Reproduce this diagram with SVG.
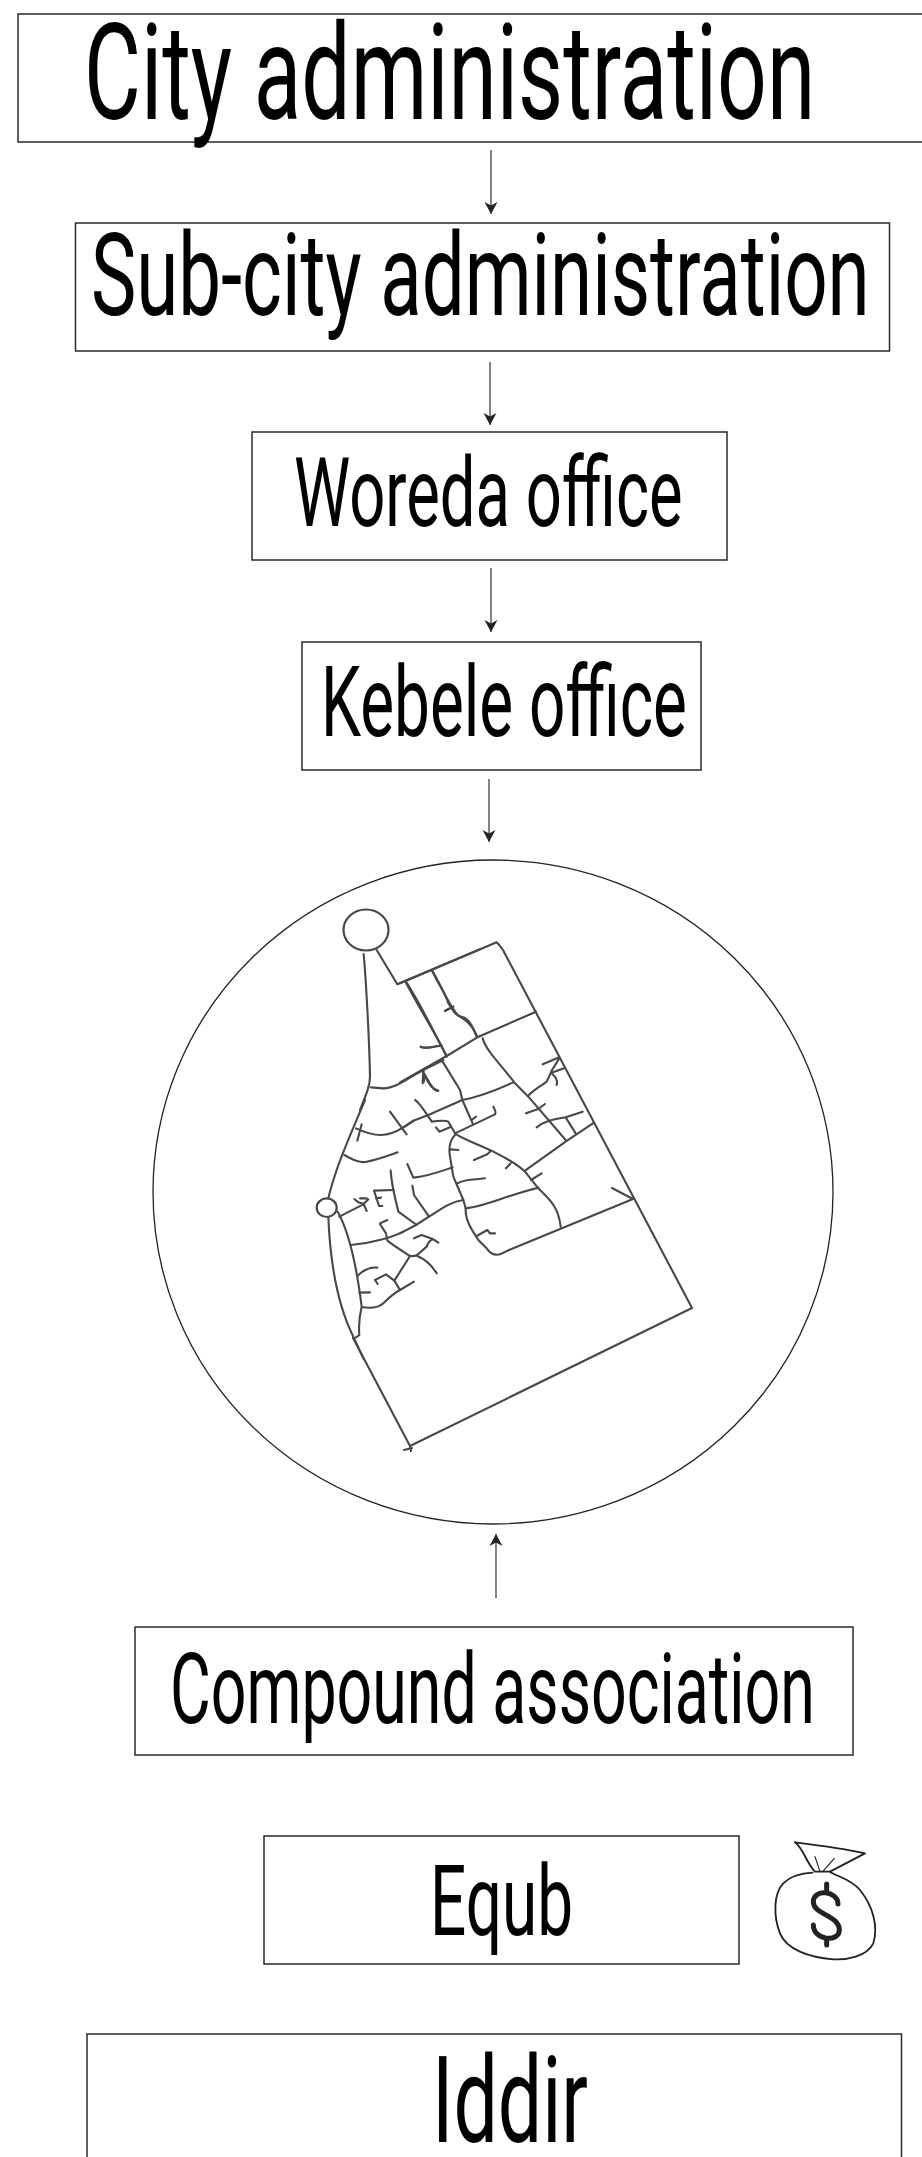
<svg xmlns="http://www.w3.org/2000/svg" width="922" height="2157" viewBox="0 0 922 2157">
<style>
.box{fill:#fff;stroke:#2a2a2a;stroke-width:1.5}
.lb{font-family:"Roboto","Liberation Sans",sans-serif;font-weight:400;fill:#000}
.arr{stroke:#333;stroke-width:1.2;fill:none;marker-end:url(#ah)}
.rd{fill:none;stroke:#484848;stroke-linecap:round;stroke-linejoin:round}
.z{stroke-width:6.300}
.bag{fill:none;stroke:#222;stroke-linejoin:round;stroke-linecap:round}
</style>
<defs>
<marker id="ah" markerUnits="userSpaceOnUse" markerWidth="14" markerHeight="14" refX="12" refY="7" orient="auto"><path d="M0,.5 L12,7 L0,13.500 L3.500,7z" fill="#222"/></marker>
</defs>
<rect width="922" height="2157" fill="#fff"/>
<g id="connectors">
<line class="arr" x1="491" y1="150" x2="491" y2="214"/>
<line class="arr" x1="490" y1="362" x2="490" y2="425"/>
<line class="arr" x1="491" y1="568" x2="491" y2="632"/>
<line class="arr" x1="489" y1="779" x2="489" y2="842"/>
<line class="arr" x1="496" y1="1598" x2="496" y2="1534"/>
</g>
<g id="city"><rect class="box" x="18" y="14" width="930" height="128"/><text class="lb" transform="translate(84 119) scale(.65 1)" font-size="134" textLength="1125" lengthAdjust="spacingAndGlyphs">City administration</text></g>
<g id="subcity"><rect class="box" x="75.500" y="223" width="814" height="128"/><text class="lb" transform="translate(91 315) scale(.65 1)" font-size="115" textLength="1198" lengthAdjust="spacingAndGlyphs">Sub-city administration</text></g>
<g id="woreda"><rect class="box" x="252" y="432" width="475" height="128"/><text class="lb" transform="translate(294 526) scale(.65 1)" font-size="97" textLength="598" lengthAdjust="spacingAndGlyphs">Woreda office</text></g>
<g id="kebele"><rect class="box" x="302" y="642" width="399" height="128"/><text class="lb" transform="translate(321 736) scale(.65 1)" font-size="98" textLength="563" lengthAdjust="spacingAndGlyphs">Kebele office</text></g>
<g id="map">
<ellipse cx="493" cy="1192" rx="340" ry="332" fill="none" stroke="#222" stroke-width="1.3"/>
<ellipse cx="366" cy="930" rx="22.500" ry="20.500" fill="none" stroke="#484848" stroke-width="2.200"/>
<ellipse cx="326.700" cy="1207.700" rx="10" ry="9.300" fill="none" stroke="#484848" stroke-width="2.200"/>
<path class="rd" stroke-width="2.100" d="M504,952 L692,1308 L410,1446 L353,1338 M404,1450 L412,1448 M410,1446 L411,1451 M509,1250 L633,1199 M612,1188 L633,1199"/>
<g class="rd z" transform="translate(280 880) scale(.33333)">
<path d="M251,222 C258,300 268,480 270,590 C270,615 262,635 240,690"/>
<path d="M290,210 L352,313 L600,208"/>
<path d="M378,305 C420,370 470,470 500,530"/>
<path d="M455,270 C480,320 500,350 505,370 C520,395 530,410 550,412 C570,420 580,445 590,470"/>
<path d="M495,393 L520,380 M422,500 C440,510 460,498 485,497"/>
<path d="M490,540 L430,570 C390,590 350,625 310,625 L272,622"/>
<path d="M430,570 L432,605 M432,585 C445,605 455,630 475,632"/>
</g>
<g class="rd z" transform="translate(400 920) scale(.33333)">
<path d="M0,190 L290,67 C300,75 305,85 312,95"/>
<path d="M18,188 C50,250 100,330 140,408"/>
<path d="M97,152 C125,200 140,240 165,275 C175,295 205,290 232,350"/>
<path d="M135,272 L160,260"/>
<path d="M408,275 L232,352 L140,408 L0,487"/>
<path d="M62,381 C80,388 100,376 125,378"/>
<path d="M128,425 L180,510 L187,540 L218,610"/>
<path d="M248,355 C260,395 300,430 345,490 L385,530 L497,660"/>
<path d="M340,487 C290,510 240,530 187,540 L85,585 L40,602 L5,625"/>
<path d="M70,452 L68,490 M72,460 C85,480 95,510 113,513"/>
<path d="M45,540 C60,550 85,590 95,605 C110,603 135,600 145,605 L165,640"/>
<path d="M108,622 L118,635 L150,622"/>
<path d="M215,600 L228,590"/>
<path d="M165,640 L285,583 C290,575 282,565 280,560"/>
<path d="M165,640 C180,655 230,670 280,695 C310,710 350,730 375,755 L415,805 C450,840 475,860 482,920"/>
<path d="M165,645 C150,660 145,680 150,710 L160,770 L190,840 L197,865 C195,900 215,930 235,960 L260,985 C270,1000 285,1007 300,1003 L327,990"/>
<path d="M150,688 L175,690 M222,720 L262,703 L270,695 M318,745 L332,730"/>
<path d="M375,752 L497,665 L582,608"/>
<path d="M428,433 L478,412 M478,415 C460,440 450,460 440,485 C420,500 400,510 385,527"/>
<path d="M455,458 L492,445 M455,460 C465,470 475,480 470,495"/>
<path d="M378,580 L415,567 L435,552"/>
<path d="M410,622 C430,605 450,600 497,592 L548,575 M497,592 L527,640"/>
<path d="M393,780 L425,760"/>
<path d="M172,790 C200,775 230,780 255,775"/>
<path d="M197,865 C260,860 320,825 415,803"/>
<path d="M22,732 L40,773 C80,770 120,755 158,742"/>
<path d="M37,797 L42,825 L87,890"/>
<path d="M190,840 C150,845 120,870 87,890 L48,915 L0,940"/>
<path d="M230,948 L262,930 L270,940 L285,940"/>
</g>
<g class="rd z" transform="translate(300 1100) scale(.33333)">
<path d="M195,0 C170,60 130,150 110,210 C100,240 90,270 85,295"/>
<path d="M85,352 C90,470 110,610 160,710 L190,775"/>
<path d="M113,335 C150,400 170,500 185,620 C180,640 175,670 178,705 L168,712"/>
<path d="M118,350 L190,313 L205,298 M163,297 L175,307 L190,312 M180,295 L200,295 M190,310 L200,333"/>
<path d="M280,270 L222,272 L237,318 L247,318 M228,295 L243,293"/>
<path d="M272,212 C275,260 285,290 295,335 L350,375"/>
<path d="M152,435 C220,430 280,410 310,395"/>
<path d="M240,370 L262,360 M240,372 L258,400 L262,422 C285,440 310,455 330,468 C355,470 350,465 380,440 C385,425 390,420 400,418 L415,428 M342,415 L365,405 L400,418"/>
<path d="M330,468 L283,542 L300,570 M352,468 C380,480 395,495 410,520"/>
<path d="M172,528 C185,515 205,500 232,503 M178,578 L210,577"/>
<path d="M187,622 C210,625 235,625 250,610 C265,595 280,580 300,570 L342,545"/>
<path d="M225,540 L233,552 M225,540 L258,523 L283,542"/>
<path d="M168,85 C200,100 230,110 260,103 C290,100 330,70 345,60"/>
<path d="M185,73 L172,122 M270,35 L320,103"/>
<path d="M133,165 C160,180 180,190 200,185 C230,180 270,165 293,157"/>
</g>
</g>
<g id="compound"><rect class="box" x="135" y="1627" width="718" height="128"/><text class="lb" transform="translate(170 1723) scale(.65 1)" font-size="98" textLength="992" lengthAdjust="spacingAndGlyphs">Compound association</text></g>
<g id="equb"><rect class="box" x="264" y="1836" width="475" height="128"/><text class="lb" transform="translate(430 1935) scale(.65 1)" font-size="98" textLength="220" lengthAdjust="spacingAndGlyphs">Equb</text></g>
<g id="bag" transform="translate(750 1820) scale(.33333)">
<path class="bag" stroke-width="5.500" d="M135,67 C200,75 280,85 345,100 L240,155 C260,170 300,175 330,210 C370,260 385,320 370,370 C350,410 290,420 250,418 C180,412 110,390 90,340 C70,290 70,220 100,190 C120,170 150,160 188,158"/>
<path class="bag" stroke-width="5.500" d="M135,67 C160,85 170,130 195,155 L240,155"/>
<path class="bag" stroke="#888" stroke-width="3.500" d="M195,110 L210,155 M253,115 L218,155"/>
<path class="bag" stroke="#000" stroke-width="15" stroke-linecap="butt" d="M264,252 C264,212 190,205 190,245 C190,285 268,285 268,330 C268,368 190,362 190,315 M230,192 L230,212 M230,356 L230,375"/>
<path class="bag" stroke="#fff" stroke-width="3.500" d="M264,252 C264,212 190,205 190,245 C190,285 268,285 268,330 C268,368 190,362 190,315"/>
</g>
<g id="iddir"><rect class="box" x="87" y="2034" width="814.500" height="140"/><text class="lb" transform="translate(432 2142) scale(.65 1)" font-size="120" textLength="240" lengthAdjust="spacingAndGlyphs">Iddir</text></g>
</svg>
